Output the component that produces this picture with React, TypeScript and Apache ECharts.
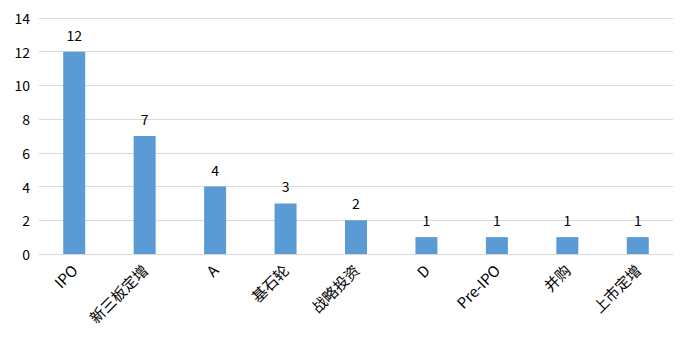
import React, { useEffect, useRef } from "react";
import * as echarts from "echarts";

const categories = ["IPO", "新三板定增", "A", "基石轮", "战略投资", "D", "Pre-IPO", "并购", "上市定增"];
const values = [12, 7, 4, 3, 2, 1, 1, 1, 1];
const yTicks = { min: 0, max: 14, interval: 2 };

export default function App() {
  const ref = useRef<HTMLDivElement>(null);
  useEffect(() => {
    if (!ref.current) return;
    const chart = echarts.init(ref.current, null, { renderer: "svg" });
    const font = "'Noto Sans CJK SC', 'Noto Sans', sans-serif";
    chart.setOption({
      animation: false,
      grid: { left: 39, right: 19, top: 18, bottom: 96, containLabel: false },
      xAxis: {
        type: "category",
        data: categories,
        axisLine: { lineStyle: { color: "#d9d9d9", width: 1 } },
        axisTick: { show: false },
        axisLabel: {
          rotate: 45,
          interval: 0,
          color: "#000",
          fontSize: 15,
          fontFamily: font,
          margin: 13,
        },
      },
      yAxis: {
        type: "value",
        min: yTicks.min,
        max: yTicks.max,
        interval: yTicks.interval,
        axisLine: { show: false },
        axisTick: { show: false },
        splitLine: { lineStyle: { color: "#d9d9d9", width: 1 } },
        axisLabel: { color: "#000", fontSize: 14, fontFamily: font, margin: 9 },
      },
      series: [
        {
          type: "bar",
          data: values,
          barWidth: 22,
          itemStyle: { color: "#5b9bd5" },
          label: {
            show: true,
            position: "top",
            distance: 10,
            color: "#000",
            fontSize: 14,
            fontFamily: font,
          },
        },
      ],
    });
    return () => chart.dispose();
  }, []);
  return (
    <div
      ref={ref}
      style={{ position: "fixed", left: 0, top: 0, width: 692, height: 350, background: "#fff" }}
    />
  );
}
